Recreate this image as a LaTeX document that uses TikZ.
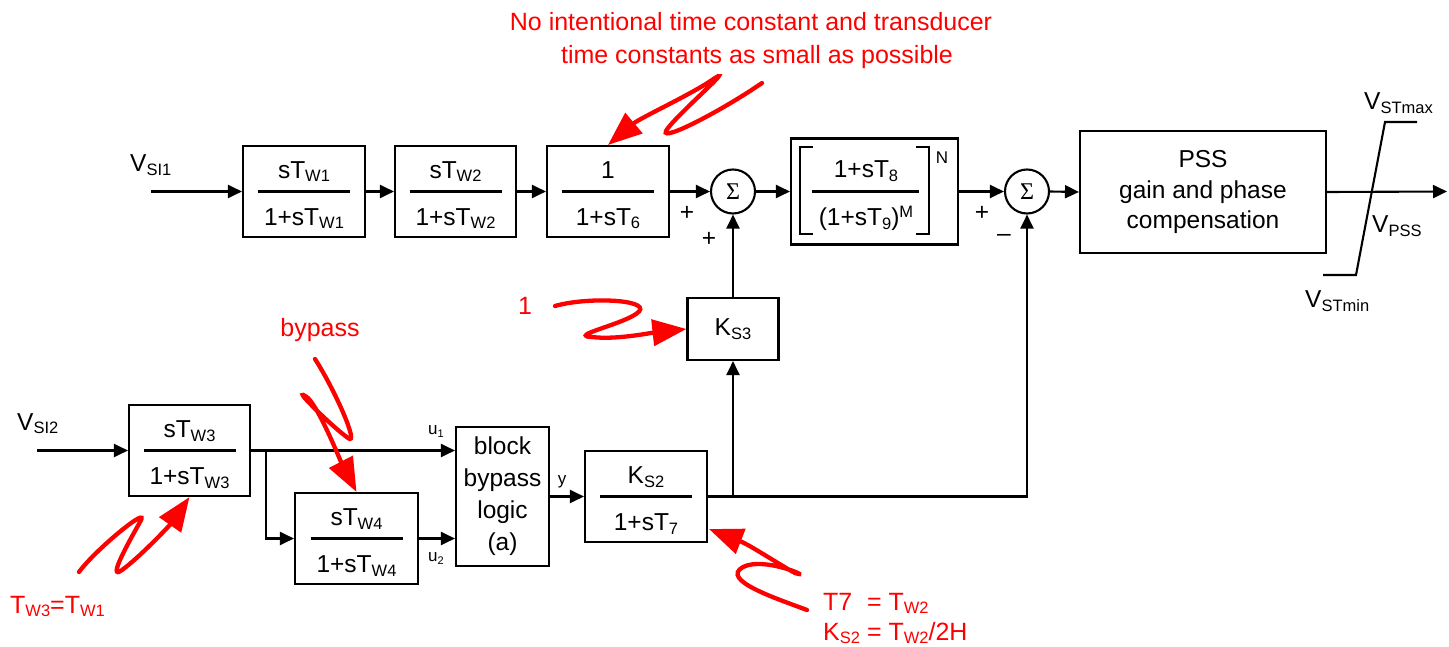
\documentclass[tikz,border=0pt]{standalone}
\usepackage{fontspec}
\setmainfont{Liberation Sans}
\newfontfamily\sgfont{Liberation Serif}
\usetikzlibrary{arrows.meta,calc}
\newcommand\mysub[1]{\raisebox{-3.5pt}{\fontsize{16.5}{16.5}\selectfont #1}}
\newcommand\mysup[1]{\raisebox{9pt}{\fontsize{16.5}{16.5}\selectfont #1}}
% fraction block: name, cx, cy, width, numerator, denominator, half bar length
\newcommand\fblk[7]{%
  \node[blk, minimum width=#4pt] (#1) at (#2,#3) {};
  \node[txt, anchor=base] (#1n) at (#2,#3-13) {#5};
  \node[txt, anchor=base] (#1d) at (#2,#3+34) {#6};
  \draw[ln] (#2-#7,#3) -- (#2+#7,#3);}
\begin{document}
\begin{tikzpicture}[x=1pt, y=-1pt,
  txt/.style={inner sep=0pt, font=\fontsize{24.5}{28}\selectfont},
  blk/.style={draw, line width=2.1pt, inner sep=0pt, minimum height=91pt, font=\fontsize{24.5}{28}\selectfont},
  ln/.style={line width=2.1pt},
  arr/.style={line width=2.1pt, -{Triangle[length=14pt,width=13pt]}},
  sumc/.style={circle, draw, line width=2.1pt, minimum size=44pt, inner sep=0pt, font=\sgfont\fontsize{24}{24}\selectfont},
  small/.style={inner sep=0pt, font=\fontsize{17}{17}\selectfont},
  rtxt/.style={text=red, inner sep=0pt, font=\fontsize{25}{30}\selectfont},
  redarr/.style={draw=red, line width=4.3pt, line cap=round, -{Triangle[length=34pt,width=26pt]}}
]
\useasboundingbox (0,0) rectangle (1449,647);

% ---------- top row ----------
\fblk{tw1}{304}{191.5}{122}{sT\mysub{W1}}{1+sT\mysub{W1}}{46}
\fblk{tw2}{455.5}{191.5}{121}{sT\mysub{W2}}{1+sT\mysub{W2}}{46}
\fblk{tsix}{608}{191.5}{122}{1}{1+sT\mysub{6}}{46}
\node[sumc] (sum1) at (733,191.5) {Σ};
\node[blk, minimum width=167pt, minimum height=106pt] (nb) at (874.5,191.5) {};
\draw[ln] (813,147) -- (800,147) -- (800,234) -- (813,234);
\draw[ln] (916,147) -- (929,147) -- (929,234) -- (916,234);
\draw[ln] (812,191.5) -- (919,191.5);
\node[txt, anchor=base] (n8) at (866,178) {1+sT\mysub{8}};
\node[txt, anchor=base] (n9) at (866,226) {(1+sT\mysub{9})\mysup{M}};
\node[small] (nexp) at (942,158) {N};
\node[sumc] (sum2) at (1027,191.5) {Σ};
\node[blk, minimum width=246pt, minimum height=122pt, align=center,
      font=\fontsize{24.5}{30.5}\selectfont] (pss) at (1203,192) {PSS\\gain and phase\\compensation};

\coordinate (in1) at (151,191.5);
\coordinate (out) at (1447,191.5);
\node[txt, anchor=base west] (vsi1) at (130,172) {V\mysub{SI1}};
\draw[arr] (in1) -- (tw1.west);
\draw[arr] (tw1.east) -- (tw2.west);
\draw[arr] (tw2.east) -- (tsix.west);
\draw[arr] (tsix.east) -- (sum1.west);
\draw[arr] (sum1.east) -- (nb.west);
\draw[arr] (nb.east) -- (sum2.west);
\draw[arr] (sum2.east) -- (pss.west);
\draw[arr] (pss.east) -- (out);

\node[txt] (p1) at (687,213) {+};
\node[txt] (p2) at (709,239) {+};
\node[txt] (p3) at (982,213) {+};
\node[txt] (m1) at (1004,238) {–};

% limiter
\coordinate (l1) at (1323,275);
\coordinate (l2) at (1356,275);
\coordinate (l3) at (1385,122);
\coordinate (l4) at (1417,122);
\draw[ln] (l1) -- (l2) -- (l3) -- (l4);
\node[txt, anchor=base west] (vmax) at (1364,110) {V\mysub{STmax}};
\node[txt, anchor=base west] (vpss) at (1372,233) {V\mysub{PSS}};
\node[txt, anchor=base west] (vmin) at (1305,308) {V\mysub{STmin}};

% ---------- bottom ----------
\node[blk, minimum width=91pt, minimum height=62pt] (ks3) at (733,329) {K\mysub{S3}};
\fblk{tw3}{189.5}{450.5}{121}{sT\mysub{W3}}{1+sT\mysub{W3}}{46}
\fblk{tw4}{356.5}{538.5}{123}{sT\mysub{W4}}{1+sT\mysub{W4}}{46}
\node[blk, minimum width=93pt, minimum height=139pt, align=center,
      font=\fontsize{24.5}{32}\selectfont] (logic) at (502.5,496.5) {block\\bypass\\logic\\(a)};
\fblk{ks2}{646}{496.5}{122}{K\mysub{S2}}{1+sT\mysub{7}}{46}

\coordinate (in2) at (37,450.5);
\coordinate (br) at (266,450.5);
\node[txt, anchor=base west] (vsi2) at (17,430) {V\mysub{SI2}};
\draw[arr] (in2) -- (tw3.west);
\draw[arr] (tw3.east) -- (logic.west |- tw3.east);
\draw[arr] (br) |- (tw4.west);
\draw[arr] (tw4.east) -- (logic.west |- tw4.east);
\draw[arr] (logic.east) -- (ks2.west);
\draw[arr] (ks2.east) -| (sum2.south);
\draw[arr] (ks2.east -| ks3.south) -- (ks3.south);
\draw[arr] (ks3.north) -- (sum1.south);

\node[small] (u1) at (436,432) {u\raisebox{-3pt}{\fontsize{11}{11}\selectfont 1}};
\node[small] (u2) at (436,559) {u\raisebox{-3pt}{\fontsize{11}{11}\selectfont 2}};
\node[small] (ylab) at (562,482) {y};

% ---------- red annotations ----------
\node[rtxt, anchor=base] (note1) at (751,31) {No intentional time constant and transducer};
\node[rtxt, anchor=base] (note2) at (757,64) {time constants as small as possible};
\node[rtxt, anchor=base] (nbyp) at (320,336) {bypass};
\node[rtxt, anchor=base] (none) at (525,314) {1};
\node[rtxt, anchor=base west] (ntw) at (10,613) {T\mysub{W3}=T\mysub{W1}};
\node[rtxt, anchor=base west] (nt7) at (823,610) {\setbox0\hbox{K\mysub{S2}}\makebox[\wd0][l]{T7} = T\mysub{W2}};
\node[rtxt, anchor=base west] (nks) at (823,640) {K\mysub{S2} = T\mysub{W2}/2H};

\draw[redarr] (762,83) .. controls (720,112) and (652,147) .. (668,128)
  .. controls (682,110) and (738,62) .. (712,80)
  .. controls (690,95) and (640,118) .. (tsix.north);
\draw[redarr] (555,306) .. controls (590,296) and (658,300) .. (636,314)
  .. controls (620,325) and (568,336) .. (592,337)
  .. controls (615,340) and (650,333) .. (ks3.west);
\draw[redarr] (315,359) .. controls (335,390) and (360,447) .. (348,438)
  .. controls (330,425) and (288,383) .. (308,398)
  .. controls (320,410) and (340,460) .. (tw4.north);
\draw[redarr] (79,572) .. controls (95,550) and (152,503) .. (140,522)
  .. controls (130,540) and (106,582) .. (122,570)
  .. controls (140,557) and (170,525) .. (tw3.south);
\draw[redarr] (807,610) .. controls (775,598) and (720,580) .. (743,567)
  .. controls (765,556) and (814,579) .. (795,573)
  .. controls (780,565) and (750,545) .. ($(ks2.south east)+(1,-14)$);
\end{tikzpicture}
\end{document}
